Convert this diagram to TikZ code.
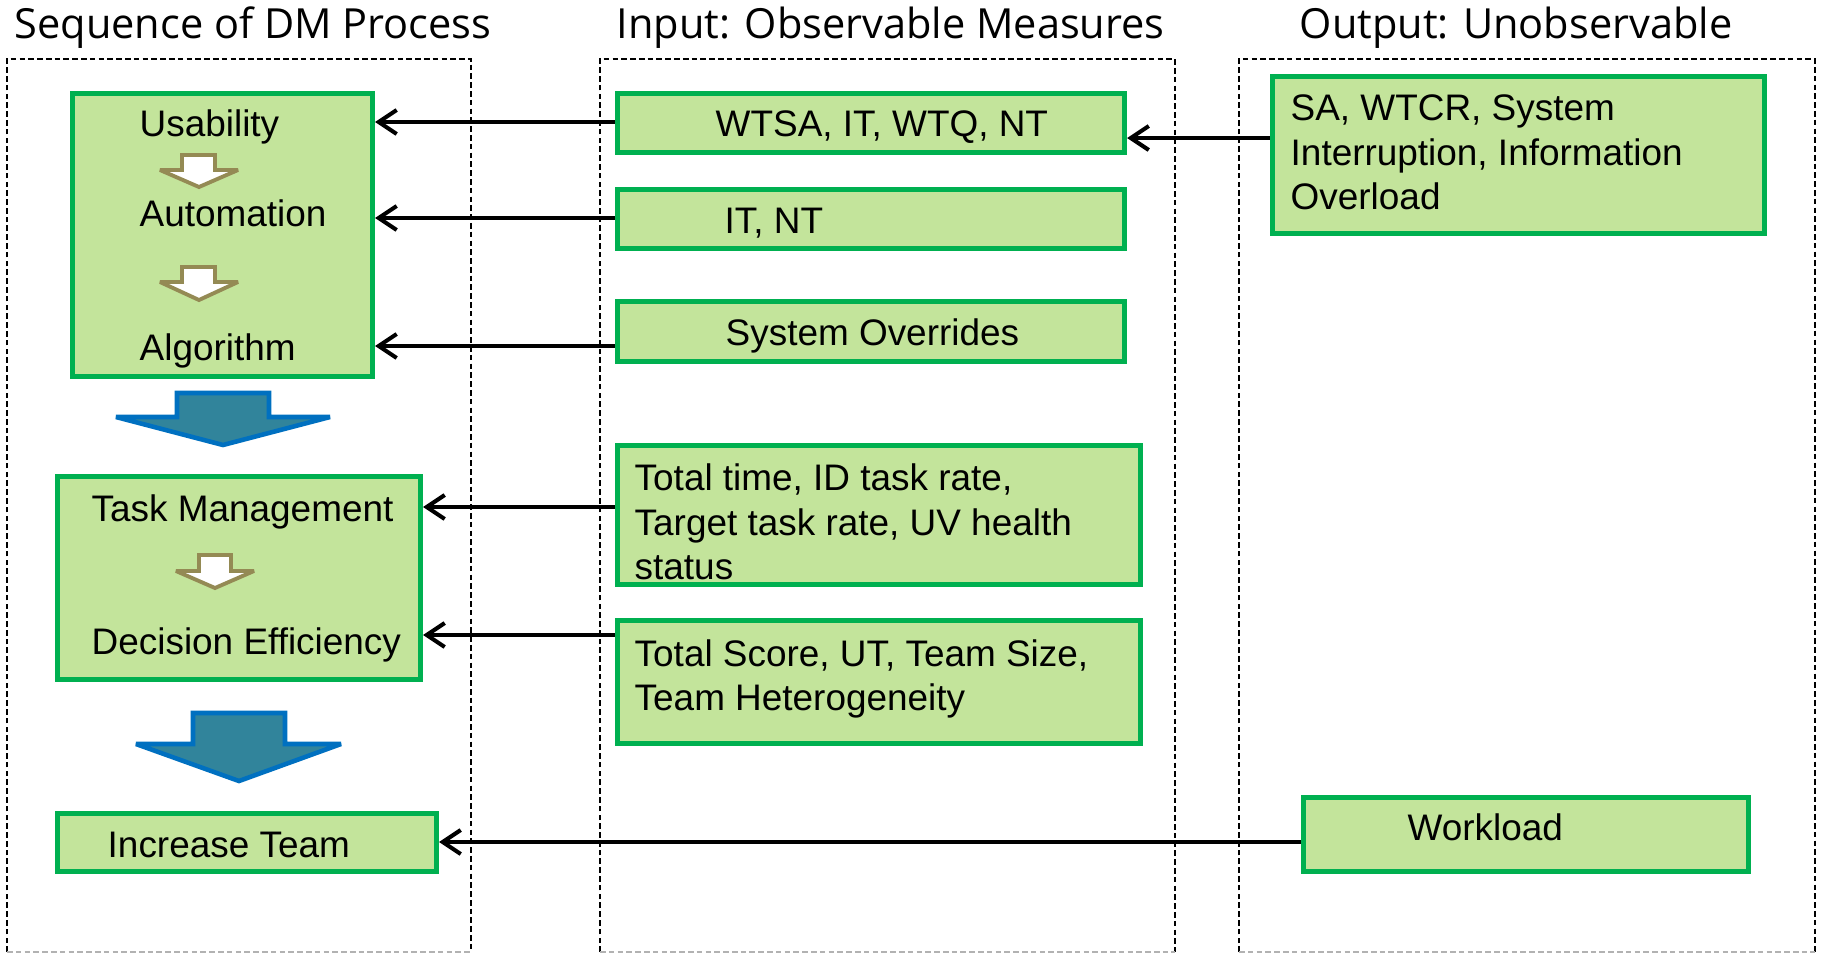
\documentclass[tikz,border=0pt]{standalone}
\usepackage{fontspec}
\setmainfont{Liberation Sans}
\newfontfamily\headfont{Open Sans}
\usetikzlibrary{arrows.meta}
\definecolor{leafgreen}{RGB}{195,228,155}
\definecolor{edgegreen}{RGB}{0,176,80}
\definecolor{stepteal}{RGB}{49,132,155}
\definecolor{stepblue}{RGB}{0,112,192}
\definecolor{khaki}{RGB}{148,138,84}

\begin{document}
\begin{tikzpicture}[x=0.01cm, y=-0.01cm,
  gbox/.style={rectangle, draw=edgegreen, fill=leafgreen, line width=1.4pt, inner sep=0pt},
  lbl/.style={anchor=base west, inner sep=0pt, align=left, font=\fontsize{10.5}{12.6}\selectfont},
  head/.style={anchor=base west, inner sep=0pt, font=\headfont\fontsize{11.8}{14}\selectfont},
  column/.style={line width=0.6pt, dash pattern=on 1.6pt off 0.9pt},
  feed/.style={-{Straight Barb[length=1.8mm,width=2.4mm]}, line width=1.15pt},
  bigarr/.style={fill=stepteal, draw=stepblue, line width=1.3pt, miter limit=1.5},
  smallarr/.style={fill=white, draw=khaki, line width=1.1pt, miter limit=1.5}]
\useasboundingbox (0,0) rectangle (1822,954);

% Column headings
\node[head] (headseq) at (14,38) {Sequence of DM Process};
\node[head] (headin) at (616,38) {Input: Observable Measures};
\node[head] (headout) at (1299,38) {Output: Unobservable};

% Dashed columns
\draw[column] (7,952) -- (7,59) -- (471,59) -- (471,952);
\draw[column] (600,952) -- (600,59) -- (1175,59) -- (1175,952);
\draw[column] (1239,952) -- (1239,59) -- (1815,59) -- (1815,952);
\draw[column, gray!60] (7,952) -- (471,952) (600,952) -- (1175,952) (1239,952) -- (1815,952);

% Sequence of DM process
\node[gbox, minimum width=3cm, minimum height=2.83cm] (usab) at (222.5,235) {};
\node[lbl] (usabtxt) at (139,136) {Usability};
\node[lbl] (autotxt) at (139,226) {Automation};
\node[lbl] (algtxt) at (139,360) {Algorithm};
\draw[smallarr] (182,155) -- ++(33,0) -- ++(0,15) -- ++(23,0) -- ++(-39,17) -- ++(-39,-17) -- ++(22,0) -- cycle;
\draw[smallarr] (182,267) -- ++(33,0) -- ++(0,15) -- ++(23,0) -- ++(-39,18) -- ++(-39,-18) -- ++(22,0) -- cycle;

\draw[bigarr] (177,393) -- (269,393) -- (269,417) -- (330,417) -- (223,445) -- (116,417) -- (177,417) -- cycle;

\node[gbox, minimum width=3.63cm, minimum height=2.03cm] (task) at (239,578) {};
\node[lbl] (tasktxt) at (91,521.5) {Task Management};
\node[lbl] (dectxt) at (91,654.5) {Decision Efficiency};
\draw[smallarr] (199,555) -- ++(32,0) -- ++(0,16) -- ++(23,0) -- ++(-39,17) -- ++(-39,-17) -- ++(23,0) -- cycle;

\draw[bigarr] (193,713) -- (285,713) -- (285,744) -- (341,744) -- (239,781) -- (136,744) -- (193,744) -- cycle;

\node[gbox, minimum width=3.79cm, minimum height=0.58cm] (incr) at (247,842.5) {};
\node[lbl] (incrtxt) at (107,857.5) {Increase Team};

% Observable measures
\node[gbox, minimum width=5.07cm, minimum height=0.59cm] (wtsa) at (871,123) {};
\node[lbl] (wtsatxt) at (715,136.5) {WTSA, IT, WTQ, NT};
\node[gbox, minimum width=5.07cm, minimum height=0.59cm] (itnt) at (871,219) {};
\node[lbl] (itnttxt) at (724,233.5) {IT, NT};
\node[gbox, minimum width=5.07cm, minimum height=0.6cm] (sysov) at (871,331.5) {};
\node[lbl] (sysovtxt) at (725,345.5) {System Overrides};
\node[gbox, minimum width=5.23cm, minimum height=1.39cm] (ttime) at (879,515) {};
\node[lbl] (ttimetxt) at (634,579.5) {Total time, ID task rate,\\Target task rate, UV health\\status};
\node[gbox, minimum width=5.23cm, minimum height=1.23cm] (tscore) at (879,682) {};
\node[lbl] (tscoretxt) at (634,710.5) {Total Score, UT, Team Size,\\Team Heterogeneity};

% Unobservable
\node[gbox, minimum width=4.92cm, minimum height=1.57cm] (sa) at (1518.5,155) {};
\node[lbl] (satxt) at (1290,209.5) {SA, WTCR, System\\Interruption, Information\\Overload};
\node[gbox, minimum width=4.45cm, minimum height=0.74cm] (work) at (1526,834.5) {};
\node[lbl] (worktxt) at (1407,840.5) {Workload};

% Feed arrows
\coordinate (r1) at (0,122);
\coordinate (r2) at (0,218);
\coordinate (r3) at (0,346);
\coordinate (r4) at (0,507);
\coordinate (r5) at (0,635);
\coordinate (r6) at (0,842);
\coordinate (r7) at (0,138);
\draw[feed] (wtsa.west |- r1) -- (usab.east |- r1);
\draw[feed] (itnt.west |- r2) -- (usab.east |- r2);
\draw[feed] (sysov.west |- r3) -- (usab.east |- r3);
\draw[feed] (ttime.west |- r4) -- (task.east |- r4);
\draw[feed] (tscore.west |- r5) -- (task.east |- r5);
\draw[feed] (work.west |- r6) -- (incr.east |- r6);
\draw[feed] (sa.west |- r7) -- (wtsa.east |- r7);
\end{tikzpicture}
\end{document}
